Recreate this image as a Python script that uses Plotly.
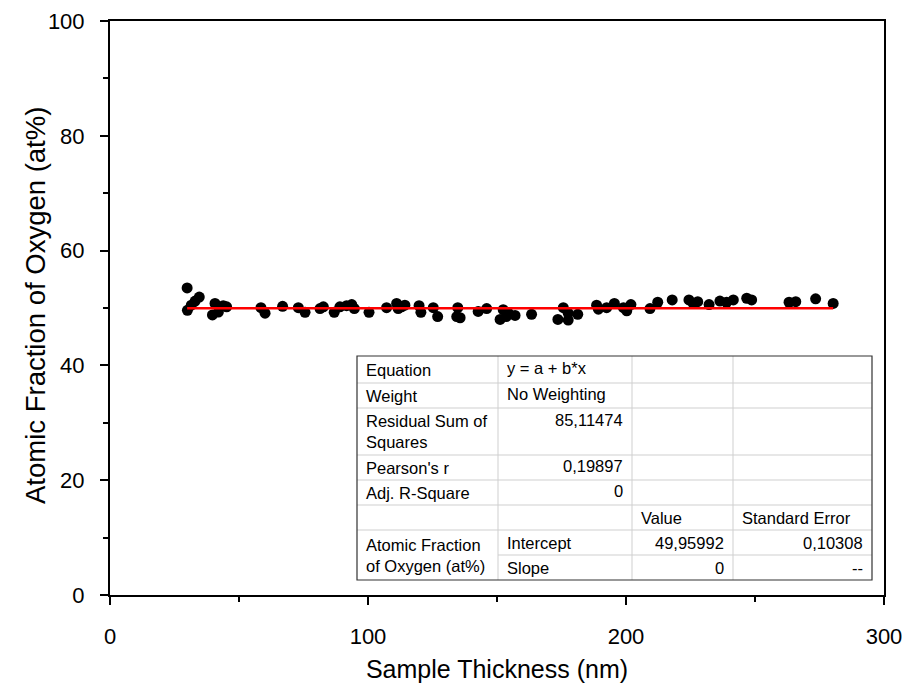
import plotly.graph_objects as go

# ---- data ----
thickness_nm = [29.9, 30.0, 31.5, 33.0, 34.6, 39.7, 40.7, 42.0, 43.9, 45.2,
                58.5, 60.1, 66.9, 73.0, 75.6, 81.4, 82.7, 86.9, 89.1, 91.7,
                93.7, 94.7, 100.4, 107.2, 111.1, 111.7, 113.0, 114.3, 119.8, 120.5,
                125.3, 127.0, 134.4, 134.8, 135.7, 142.7, 146.0, 151.2, 152.4, 153.6,
                154.4, 157.0, 163.4, 173.6, 175.7, 177.6, 177.6, 181.3, 188.6, 189.3,
                192.5, 195.5, 199.0, 200.3, 201.9, 209.3, 212.3, 217.9, 224.4, 226.1,
                227.8, 232.2, 236.4, 239.0, 241.6, 246.8, 248.7, 263.2, 265.8, 273.5,
                280.3]
oxygen_at = [53.5, 49.6, 50.5, 51.2, 51.9, 48.8, 50.8, 49.3, 50.4, 50.2,
             50.05, 49.1, 50.3, 50.05, 49.25, 49.9, 50.2, 49.25, 50.2, 50.4,
             50.6, 49.9, 49.25, 50.05, 50.8, 49.9, 50.2, 50.5, 50.4, 49.25,
             50.05, 48.5, 48.5, 50.05, 48.3, 49.4, 49.9, 48.0, 49.7, 48.5,
             49.1, 48.7, 48.9, 48.0, 50.05, 49.1, 47.9, 48.9, 50.5, 49.8,
             50.05, 50.8, 50.05, 49.5, 50.6, 49.9, 51.0, 51.4, 51.4, 50.8,
             51.1, 50.6, 51.2, 51.0, 51.4, 51.7, 51.4, 51.0, 51.1, 51.6,
             50.8]

fit_intercept = 49.95992
fit_slope = 0.0

x_ticks = [0, 100, 200, 300]
y_ticks = [0, 20, 40, 60, 80, 100]

x_title = "Sample Thickness (nm)"
y_title = "Atomic Fraction of Oxygen (at%)"

table_rows = [
    ["Equation", "y = a + b*x", "", ""],
    ["Weight", "No Weighting", "", ""],
    ["Residual Sum of<br>Squares", "85,11474", "", ""],
    ["Pearson's r", "0,19897", "", ""],
    ["Adj. R-Square", "0", "", ""],
    ["", "", "Value", "Standard Error"],
    ["Atomic Fraction<br>of Oxygen (at%)", "Intercept", "49,95992", "0,10308"],
    ["", "Slope", "0", "--"],
]

# ---- layout geometry (pixels) ----
W, H = 906, 683
L, R, T, B = 110, 22, 21, 88
PW, PH = W - L - R, H - T - B


def px(xp):
    return (xp - L) / PW


def py(yp):
    return (H - B - yp) / PH


fig = go.Figure()

fig.add_trace(go.Scatter(
    x=thickness_nm, y=oxygen_at, mode="markers",
    marker=dict(color="black", size=11, line=dict(width=0)),
    showlegend=False, hoverinfo="x+y"))

x_fit = [min(thickness_nm), max(thickness_nm)]
y_fit = [fit_intercept + fit_slope * v for v in x_fit]
fig.add_trace(go.Scatter(
    x=x_fit, y=y_fit, mode="lines",
    line=dict(color="#ff0000", width=2.5), showlegend=False))

# ---- table ----
col_x = [357, 498, 632, 733, 872]
row_y = [356, 383, 408, 455, 480, 505, 530, 555, 580]
shapes = []
shapes.append(dict(type="rect", xref="paper", yref="paper",
                   x0=px(col_x[0]), x1=px(col_x[-1]), y0=py(row_y[-1]), y1=py(row_y[0]),
                   fillcolor="white", line=dict(width=0), layer="above"))
grid = "#cfcfcf"
for i, yy in enumerate(row_y[1:-1], start=1):
    x0 = col_x[1] if i == 7 else col_x[0]
    shapes.append(dict(type="line", xref="paper", yref="paper",
                       x0=px(x0), x1=px(col_x[-1]), y0=py(yy), y1=py(yy),
                       line=dict(color=grid, width=1), layer="above"))
for xx in col_x[1:-1]:
    shapes.append(dict(type="line", xref="paper", yref="paper",
                       x0=px(xx), x1=px(xx), y0=py(row_y[0]), y1=py(row_y[-1]),
                       line=dict(color=grid, width=1), layer="above"))
shapes.append(dict(type="rect", xref="paper", yref="paper",
                   x0=px(col_x[0]), x1=px(col_x[-1]), y0=py(row_y[-1]), y1=py(row_y[0]),
                   line=dict(color="#333333", width=1.2), fillcolor="rgba(0,0,0,0)",
                   layer="above"))

annotations = []
tfont = dict(family="Liberation Sans, Arial, sans-serif", size=16.5, color="black")
for r, row in enumerate(table_rows):
    top, bot = row_y[r], row_y[r + 1]
    for c, txt in enumerate(row):
        if not txt:
            continue
        ymid = (top + bot) / 2
        if r == 6 and c == 0:
            ymid = (row_y[6] + row_y[8]) / 2
        elif r == 2 and c == 1:
            ymid = top + 12
        elif c >= 1 and r < 5:
            ymid = ymid - 1.5
        numeric = txt[0].isdigit() or txt == "--"
        if numeric:
            xa, xanchor = col_x[c + 1] - 7, "right"
        else:
            xa, xanchor = col_x[c] + 7, "left"
        annotations.append(dict(
            text=txt, x=px(xa), y=py(ymid), xref="paper", yref="paper",
            xanchor=xanchor, yanchor="middle", showarrow=False, font=tfont,
            align="left"))

# y-axis title as a rotated annotation for exact placement
annotations.append(dict(
    text=y_title, x=px(35), y=py(306), xref="paper", yref="paper",
    xanchor="center", yanchor="middle", textangle=-90, showarrow=False,
    font=dict(family="Liberation Sans, Arial, sans-serif", size=27.5, color="black")))

axis_font = dict(family="Liberation Sans, Arial, sans-serif", size=22, color="black")

fig.update_layout(
    width=W, height=H,
    margin=dict(l=L, r=R, t=T, b=B, pad=0, autoexpand=False),
    paper_bgcolor="white", plot_bgcolor="white",
    shapes=shapes, annotations=annotations,
    font=dict(family="Liberation Sans, Arial, sans-serif", color="black"),
    xaxis=dict(range=[0, 300], tickvals=x_ticks, ticks="outside", ticklen=8, tickwidth=2,
               tickcolor="black", showline=True, linecolor="black", linewidth=2,
               mirror=True, showgrid=False, zeroline=False, tickfont=axis_font,
               ticklabelstandoff=13, automargin=False,
               minor=dict(tickvals=[50, 150, 250], ticks="outside", ticklen=5,
                          tickwidth=2, tickcolor="black"),
               title=dict(text=x_title, standoff=16,
                          font=dict(family="Liberation Sans, Arial, sans-serif",
                                    size=25, color="black"))),
    yaxis=dict(range=[0, 100], tickvals=y_ticks, ticks="outside", ticklen=8, tickwidth=2,
               tickcolor="black", showline=True, linecolor="black", linewidth=2,
               mirror=True, showgrid=False, zeroline=False, tickfont=axis_font,
               ticklabelstandoff=11, automargin=False,
               minor=dict(tickvals=[10, 30, 50, 70, 90], ticks="outside", ticklen=5,
                          tickwidth=2, tickcolor="black")),
)

fig.write_html("out.html")
